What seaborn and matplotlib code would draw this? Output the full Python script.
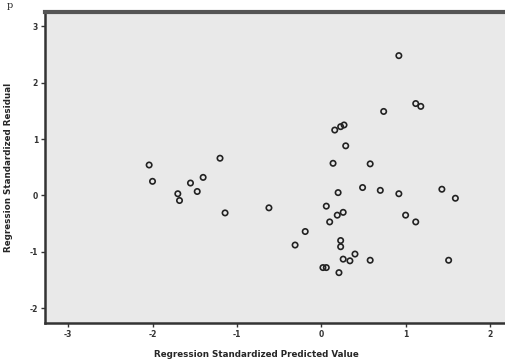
import numpy as np
import pandas as pd
import matplotlib
matplotlib.use("Agg")
import matplotlib.pyplot as plt
import seaborn as sns

# standardized predicted values (x) and standardized residuals (y)
predicted = [-2.04, -2.00, -1.20, -1.40, -1.55, -1.47, -1.70, -1.68, -1.14,
             -0.62, 0.20, 0.49, 0.70, 0.92, 1.43, 1.59, 0.06, 0.26, 0.19,
             0.10, 1.00, 1.12, -0.19, -0.31, 0.23, 0.23, 0.40, 0.26, 0.34,
             0.58, 1.51, 0.02, 0.06, 0.21,
             0.92, 1.12, 1.18, 0.74, 0.27, 0.23, 0.16, 0.29, 0.14, 0.58]
residual = [0.54, 0.25, 0.66, 0.32, 0.22, 0.07, 0.03, -0.09, -0.31,
            -0.22, 0.05, 0.14, 0.09, 0.03, 0.11, -0.05, -0.19, -0.30, -0.35,
            -0.47, -0.35, -0.47, -0.64, -0.88, -0.80, -0.91, -1.04, -1.13, -1.16,
            -1.15, -1.15, -1.28, -1.28, -1.37,
            2.48, 1.63, 1.58, 1.49, 1.25, 1.22, 1.16, 0.88, 0.57, 0.56]

x_ticks = [-3, -2, -1, 0, 1, 2]
y_ticks = [-2, -1, 0, 1, 2, 3]

df = pd.DataFrame({"pred": predicted, "resid": residual})

sns.set_style("white")
plt.rcParams['font.family'] = ['DejaVu Sans']

fig = plt.figure(figsize=(5.06, 3.59), dpi=100)
ax = fig.add_axes([0.089, 0.100, 0.911, 0.867])
ax.set_facecolor('#E9E9E9')

sns.scatterplot(data=df, x="pred", y="resid", ax=ax,
                s=15, facecolor='none', edgecolor='#222222', linewidth=1.2)

ax.set_xlim(-3.274, 2.19)
ax.set_ylim(-2.265, 3.257)
ax.set_xticks(x_ticks)
ax.set_yticks(y_ticks)
ax.set_xticklabels([str(t) for t in x_ticks], fontsize=5.5, fontweight='bold', color='#333333')
ax.set_yticklabels([str(t) for t in y_ticks], fontsize=5.5, fontweight='bold', color='#333333')
ax.tick_params(axis='both', direction='out', length=3, width=1, color='#333333', pad=2,
               bottom=True, left=True)

for side in ['left', 'bottom']:
    ax.spines[side].set_color('#333333')
    ax.spines[side].set_linewidth(1.8)
ax.spines['top'].set_color('#555555')
ax.spines['top'].set_linewidth(3)
ax.spines['right'].set_visible(False)

ax.set_xlabel('Regression Standardized Predicted Value', fontsize=6.3, fontweight='bold')
ax.set_ylabel('Regression Standardized Residual', fontsize=6.3, fontweight='bold')
ax.xaxis.set_label_coords(0.458, -0.085)
ax.yaxis.set_label_coords(-0.07, 0.5)

# caption fragment at top-left
fig.text(0.014, 0.998, 'p', fontsize=7, family='DejaVu Serif', va='top', ha='left')

fig.savefig('out.png', dpi=100)
